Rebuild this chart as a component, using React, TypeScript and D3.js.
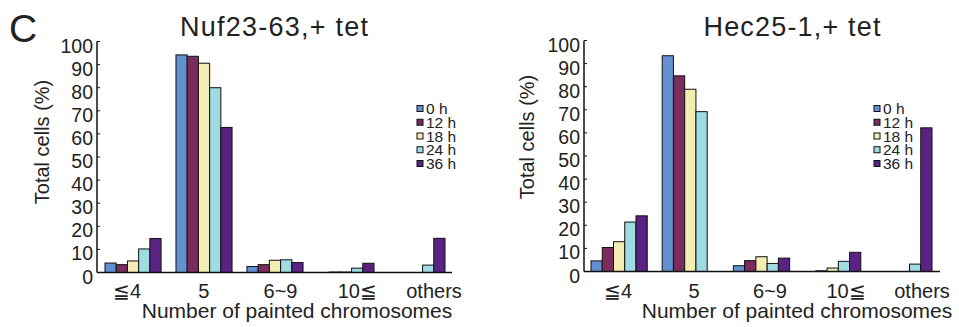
import React from 'react';
import * as d3 from 'd3';

const categories = ['≦4', '5', '6~9', '10≦', 'others'];
const series = ['0 h', '12 h', '18 h', '24 h', '36 h'];
const yTicks = [0, 10, 20, 30, 40, 50, 60, 70, 80, 90, 100];

// values per series, in category order
const nufValues = [
  [4.1, 94.2, 2.6, 0, 0],
  [3.4, 93.6, 3.4, 0.2, 0],
  [5.0, 90.6, 5.3, 0.2, 0],
  [10.2, 80.0, 5.5, 1.9, 3.2],
  [14.7, 62.8, 4.3, 4.0, 14.8],
];
const hecValues = [
  [4.6, 93.4, 2.5, 0, 0],
  [10.4, 84.7, 4.7, 0.3, 0],
  [12.9, 78.9, 6.4, 1.5, 0],
  [21.4, 69.2, 3.5, 4.4, 3.2],
  [24.1, 0, 5.8, 8.3, 62.2],
];

const colors = ['#6390d0', '#7a2c5c', '#f3ecb3', '#9fdbe3', '#5a2383'];
const font = 'Liberation Sans, Arial, Helvetica, sans-serif';
const ink = '#222';

function Panel({ title, values, p }) {
  const x = d3.scaleBand().domain(categories).range([p.x0, p.x1]).paddingInner(0.21);
  const inner = d3.scaleBand().domain(series).range([0, x.bandwidth()]);
  const y = d3.scaleLinear().domain([0, 100]).range([p.base, p.top]);
  const labelX = d3.scalePoint().domain(categories).range(p.labelRange);

  return (
    <g>
      <text x={p.titleX} y={36} textAnchor="middle" fontSize={27} textLength={p.titleW} fill={ink}>
        {title}
      </text>
      {series.map((s, si) =>
        categories.map((c, ci) => {
          const v = values[si][ci];
          if (v <= 0) return null;
          return (
            <rect
              key={`${s}-${c}`}
              x={x(c) + inner(s)}
              y={y(v)}
              width={inner.bandwidth()}
              height={y(0) - y(v)}
              fill={colors[si]}
              stroke="#111"
              strokeWidth={1}
            />
          );
        })
      )}
      <line x1={p.axisX} x2={p.axisX} y1={y(100)} y2={y(0)} stroke="#111" strokeWidth={1.5} />
      <line x1={p.axisX} x2={p.axisEnd} y1={y(0)} y2={y(0)} stroke="#111" strokeWidth={1.5} />
      {yTicks.map((t) => (
        <g key={t}>
          <line x1={p.axisX} x2={p.axisX + 3} y1={y(t)} y2={y(t)} stroke="#111" />
          <text x={p.axisX - 4} y={y(t) + 11} textAnchor="end" fontSize={19.5} fill={ink}>
            {t}
          </text>
        </g>
      ))}
      {categories.map((c) => (
        <text key={c} x={labelX(c)} y={298} textAnchor="middle" fontSize={20} fill={ink}>
          {c}
        </text>
      ))}
      <text x={p.xTitleX} y={318} textAnchor="middle" fontSize={21} fill={ink}>
        Number of painted chromosomes
      </text>
      <text
        transform={`translate(${p.yTitleX},${p.yTitleY}) rotate(-90)`}
        textAnchor="middle"
        fontSize={20}
        fill={ink}
      >
        Total cells (%)
      </text>
      {series.map((s, i) => (
        <g key={s} transform={`translate(${p.legendX},${108.5 + i * 13.75})`}>
          <rect x={0} y={-3} width={6} height={6} fill={colors[i]} stroke="#111" strokeWidth={1} />
          <text x={9} y={5.5} fontSize={15.5} fill={ink}>
            {s}
          </text>
        </g>
      ))}
    </g>
  );
}

const leftLayout = {
  x0: 105, x1: 445, base: 272.5, top: 41.5, axisX: 97, axisEnd: 452,
  titleX: 274, titleW: 188, labelRange: [127, 434], xTitleX: 297,
  yTitleX: 49, yTitleY: 142, legendX: 417,
};
const rightLayout = {
  x0: 591, x1: 932, base: 271.5, top: 40.5, axisX: 584, axisEnd: 940,
  titleX: 792, titleW: 177, labelRange: [618, 922], xTitleX: 797,
  yTitleX: 534, yTitleY: 137, legendX: 874,
};

export default function App() {
  return (
    <svg
      width={959}
      height={327}
      style={{ position: 'absolute', left: 0, top: 0, background: '#fff' }}
      fontFamily={font}
    >
      <rect width={959} height={327} fill="#fff" />
      <text x={9} y={42} fontSize={39} fill={ink}>C</text>
      <Panel title="Nuf23-63,+ tet" values={nufValues} p={leftLayout} />
      <Panel title="Hec25-1,+ tet" values={hecValues} p={rightLayout} />
    </svg>
  );
}
